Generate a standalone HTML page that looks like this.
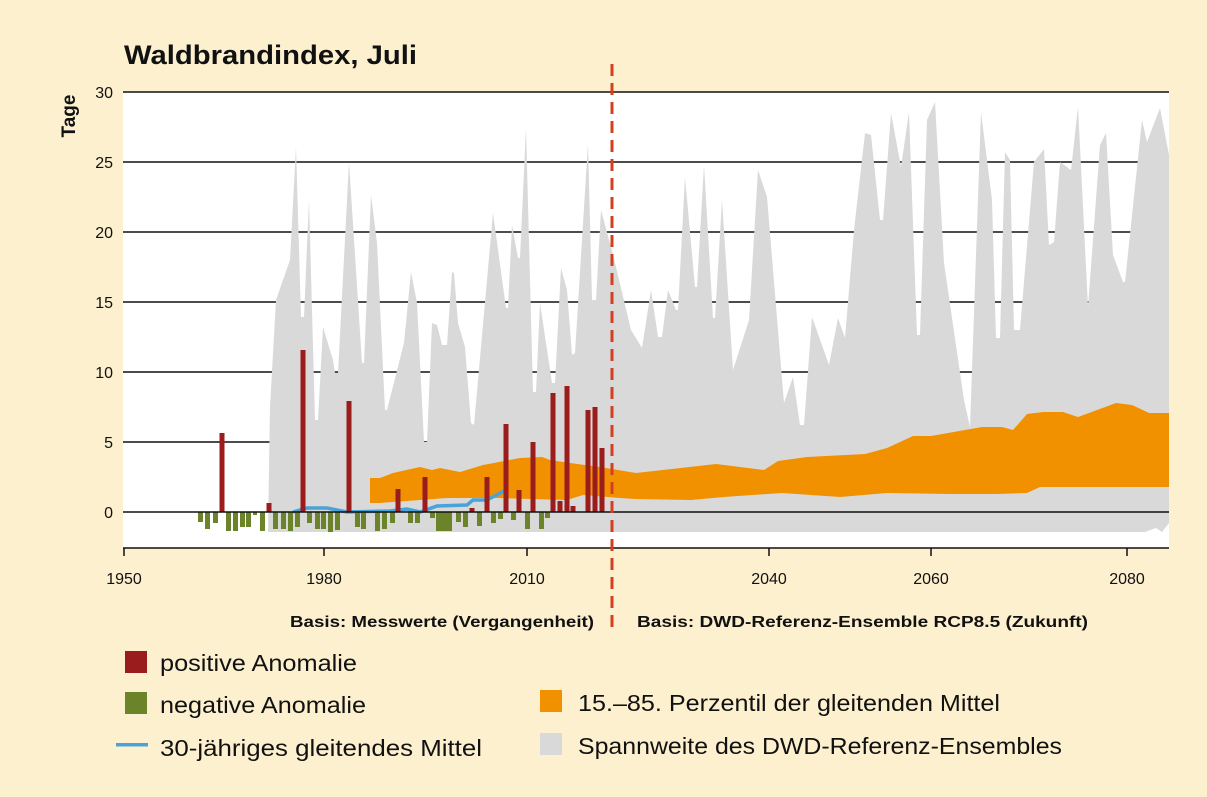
<!DOCTYPE html>
<html><head><meta charset="utf-8"><style>
body{margin:0;background:#fdf0cf;}
svg{display:block;font-family:"Liberation Sans",sans-serif;}
</style></head><body>
<svg width="1207" height="797" viewBox="0 0 1207 797" xmlns="http://www.w3.org/2000/svg">
<rect width="1207" height="797" fill="#fdf0cf"/>
<text x="124" y="64" font-size="27" font-weight="bold" fill="#111" textLength="293" lengthAdjust="spacingAndGlyphs">Waldbrandindex, Juli</text>
<text transform="translate(75,116) rotate(-90)" font-size="19" font-weight="bold" text-anchor="middle" fill="#111">Tage</text>
<rect x="123" y="92" width="1046" height="456" fill="#fff"/>
<g stroke="#111" stroke-width="1.5">
<line x1="123" x2="1169" y1="92" y2="92"/><line x1="123" x2="1169" y1="162" y2="162"/>
<line x1="123" x2="1169" y1="232" y2="232"/><line x1="123" x2="1169" y1="302" y2="302"/>
<line x1="123" x2="1169" y1="372" y2="372"/><line x1="123" x2="1169" y1="442" y2="442"/>
</g>
<polygon fill="#d9d9d9" points="268,532 270,407 276,300 290,260 296,147 301,317 304,317 309,200 315,420 318,420 323,327 333,360 335,373 338,373 349,162 362,363 364,363 371,195 377,243 385,410 387,410 404,343 411,272 417,303 424,442 427,442 432,323 437,325 442,345 447,345 452,272 454,273 458,323 465,347 471,423 474,425 493,213 506,308 508,308 512,225 518,258 520,258 526,128 533,392 536,392 540,303 552,383 555,383 561,268 567,290 572,355 575,353 588,143 592,300 596,300 601,210 611,247 616,267 631,330 642,348 651,290 658,337 662,337 668,290 676,310 678,310 685,177 695,287 697,287 704,165 713,318 715,318 722,200 733,370 749,320 758,170 767,197 784,403 793,377 800,425 804,425 812,317 829,365 838,318 845,338 854,230 865,133 871,135 880,220 883,220 891,113 901,167 909,112 917,335 920,335 927,120 935,102 944,263 964,400 970,427 981,112 992,200 996,338 1000,338 1005,152 1010,160 1014,330 1020,330 1034,162 1044,149 1049,245 1054,242 1060,162 1071,170 1078,107 1088,307 1100,145 1106,133 1113,255 1123,282 1125,282 1142,120 1147,142 1160,108 1169,155 1169,523 1162,532 1156,528 1145,532"/>
<polygon fill="#f29100" points="370,478 380,478 393,473 420,467 432,470 440,468 460,472 483,465 520,458 542,457 550,460 570,463 600,467 636,473 716,464 764,470 778,461 807,457 865,454 887,448 913,436 931,436 982,427 1002,427 1013,430 1027,414 1043,412 1063,412 1078,417 1116,403 1132,405 1149,413 1169,413 1169,487 1040,487 1027,493 996,494 949,494 887,493 840,497 782,493 724,497 691,500 636,499 620,498 583,495 567,500 497,498 447,498 420,500 380,503 370,503"/>
<polyline fill="none" stroke="#4aa3d8" stroke-width="3.5" points="293,512 307,508 327,508 347,512 390,511 407,509 420,512 437,506 467,505 473,500 487,500 502,492 506,490"/>
<g fill="#6b8329">
<rect x="198" y="512" width="5" height="10"/><rect x="205" y="512" width="5" height="17"/><rect x="213" y="512" width="5" height="11"/><rect x="226" y="512" width="5" height="19"/><rect x="233" y="512" width="5" height="19"/><rect x="240" y="512" width="5" height="15"/><rect x="246" y="512" width="5" height="15"/><rect x="253" y="512" width="4" height="3"/><rect x="260" y="512" width="5" height="19"/><rect x="273" y="512" width="5" height="17"/><rect x="281" y="512" width="5" height="17"/><rect x="288" y="512" width="5" height="19"/><rect x="295" y="512" width="5" height="15"/><rect x="307" y="512" width="5" height="11"/><rect x="315" y="512" width="5" height="17"/><rect x="321" y="512" width="5" height="17"/><rect x="328" y="512" width="5" height="20"/><rect x="335" y="512" width="5" height="18"/><rect x="355" y="512" width="5" height="15"/><rect x="361" y="512" width="5" height="17"/><rect x="375" y="512" width="5" height="19"/><rect x="382" y="512" width="5" height="17"/><rect x="390" y="512" width="5" height="11"/><rect x="408" y="512" width="5" height="11"/><rect x="415" y="512" width="5" height="11"/><rect x="430" y="512" width="5" height="6"/><rect x="436" y="512" width="16" height="19"/><rect x="456" y="512" width="5" height="10"/><rect x="463" y="512" width="5" height="15"/><rect x="477" y="512" width="5" height="14"/><rect x="491" y="512" width="5" height="11"/><rect x="498" y="512" width="5" height="7"/><rect x="511" y="512" width="5" height="8"/><rect x="525" y="512" width="5" height="17"/><rect x="539" y="512" width="5" height="17"/><rect x="545" y="512" width="5" height="6"/>
</g>
<g fill="#9b1c1c">
<rect x="219.5" y="433" width="5" height="79"/><rect x="266.5" y="503" width="5" height="9"/><rect x="300.5" y="350" width="5" height="162"/><rect x="346.5" y="401" width="5" height="111"/><rect x="395.5" y="489" width="5" height="23"/><rect x="422.5" y="477" width="5" height="35"/><rect x="469.5" y="508" width="5" height="4"/><rect x="484.5" y="477" width="5" height="35"/><rect x="503.5" y="424" width="5" height="88"/><rect x="516.5" y="490" width="5" height="22"/><rect x="530.5" y="442" width="5" height="70"/><rect x="550.5" y="393" width="5" height="119"/><rect x="557.5" y="501" width="5" height="11"/><rect x="564.5" y="386" width="5" height="126"/><rect x="570.5" y="506" width="5" height="6"/><rect x="585.5" y="410" width="5" height="102"/><rect x="592.5" y="407" width="5" height="105"/><rect x="599.5" y="448" width="5" height="64"/>
</g>
<line x1="123" x2="1169" y1="512" y2="512" stroke="#111" stroke-width="1.5"/>
<line x1="123" x2="1169" y1="548" y2="548" stroke="#111" stroke-width="1.5"/>
<g stroke="#111" stroke-width="1.5">
<line x1="124" x2="124" y1="548" y2="556"/><line x1="324" x2="324" y1="548" y2="556"/><line x1="527" x2="527" y1="548" y2="556"/><line x1="769" x2="769" y1="548" y2="556"/><line x1="931" x2="931" y1="548" y2="556"/><line x1="1127" x2="1127" y1="548" y2="556"/>
</g>
<g font-size="16" fill="#111" text-anchor="end">
<text x="113" y="98">30</text><text x="113" y="168">25</text><text x="113" y="238">20</text><text x="113" y="308">15</text><text x="113" y="378">10</text><text x="113" y="448">5</text><text x="113" y="518">0</text>
</g>
<g font-size="16" fill="#111" text-anchor="middle">
<text x="124" y="584">1950</text><text x="324" y="584">1980</text><text x="527" y="584">2010</text><text x="769" y="584">2040</text><text x="931" y="584">2060</text><text x="1127" y="584">2080</text>
</g>
<line x1="612" x2="612" y1="64" y2="632" stroke="#d4401f" stroke-width="3" stroke-dasharray="12,7"/>
<text x="290" y="627" font-size="16" font-weight="bold" fill="#111" textLength="304" lengthAdjust="spacingAndGlyphs">Basis: Messwerte (Vergangenheit)</text>
<text x="637" y="627" font-size="16" font-weight="bold" fill="#111" textLength="451" lengthAdjust="spacingAndGlyphs">Basis: DWD-Referenz-Ensemble RCP8.5 (Zukunft)</text>
<rect x="125" y="651" width="22" height="22" fill="#9b1c1c"/>
<rect x="125" y="692" width="22" height="22" fill="#6b8329"/>
<rect x="116" y="743" width="32" height="3.5" fill="#4aa3d8"/>
<rect x="540" y="690" width="22" height="22" fill="#f29100"/>
<rect x="540" y="733" width="22" height="22" fill="#d9d9d9"/>
<g font-size="23" fill="#111" lengthAdjust="spacingAndGlyphs">
<text x="160" y="671" textLength="197" lengthAdjust="spacingAndGlyphs">positive Anomalie</text>
<text x="160" y="713" textLength="206" lengthAdjust="spacingAndGlyphs">negative Anomalie</text>
<text x="160" y="756" textLength="322" lengthAdjust="spacingAndGlyphs">30-jähriges gleitendes Mittel</text>
<text x="578" y="711" textLength="422" lengthAdjust="spacingAndGlyphs">15.–85. Perzentil der gleitenden Mittel</text>
<text x="578" y="754" textLength="484" lengthAdjust="spacingAndGlyphs">Spannweite des DWD-Referenz-Ensembles</text>
</g>
</svg>
</body></html>
